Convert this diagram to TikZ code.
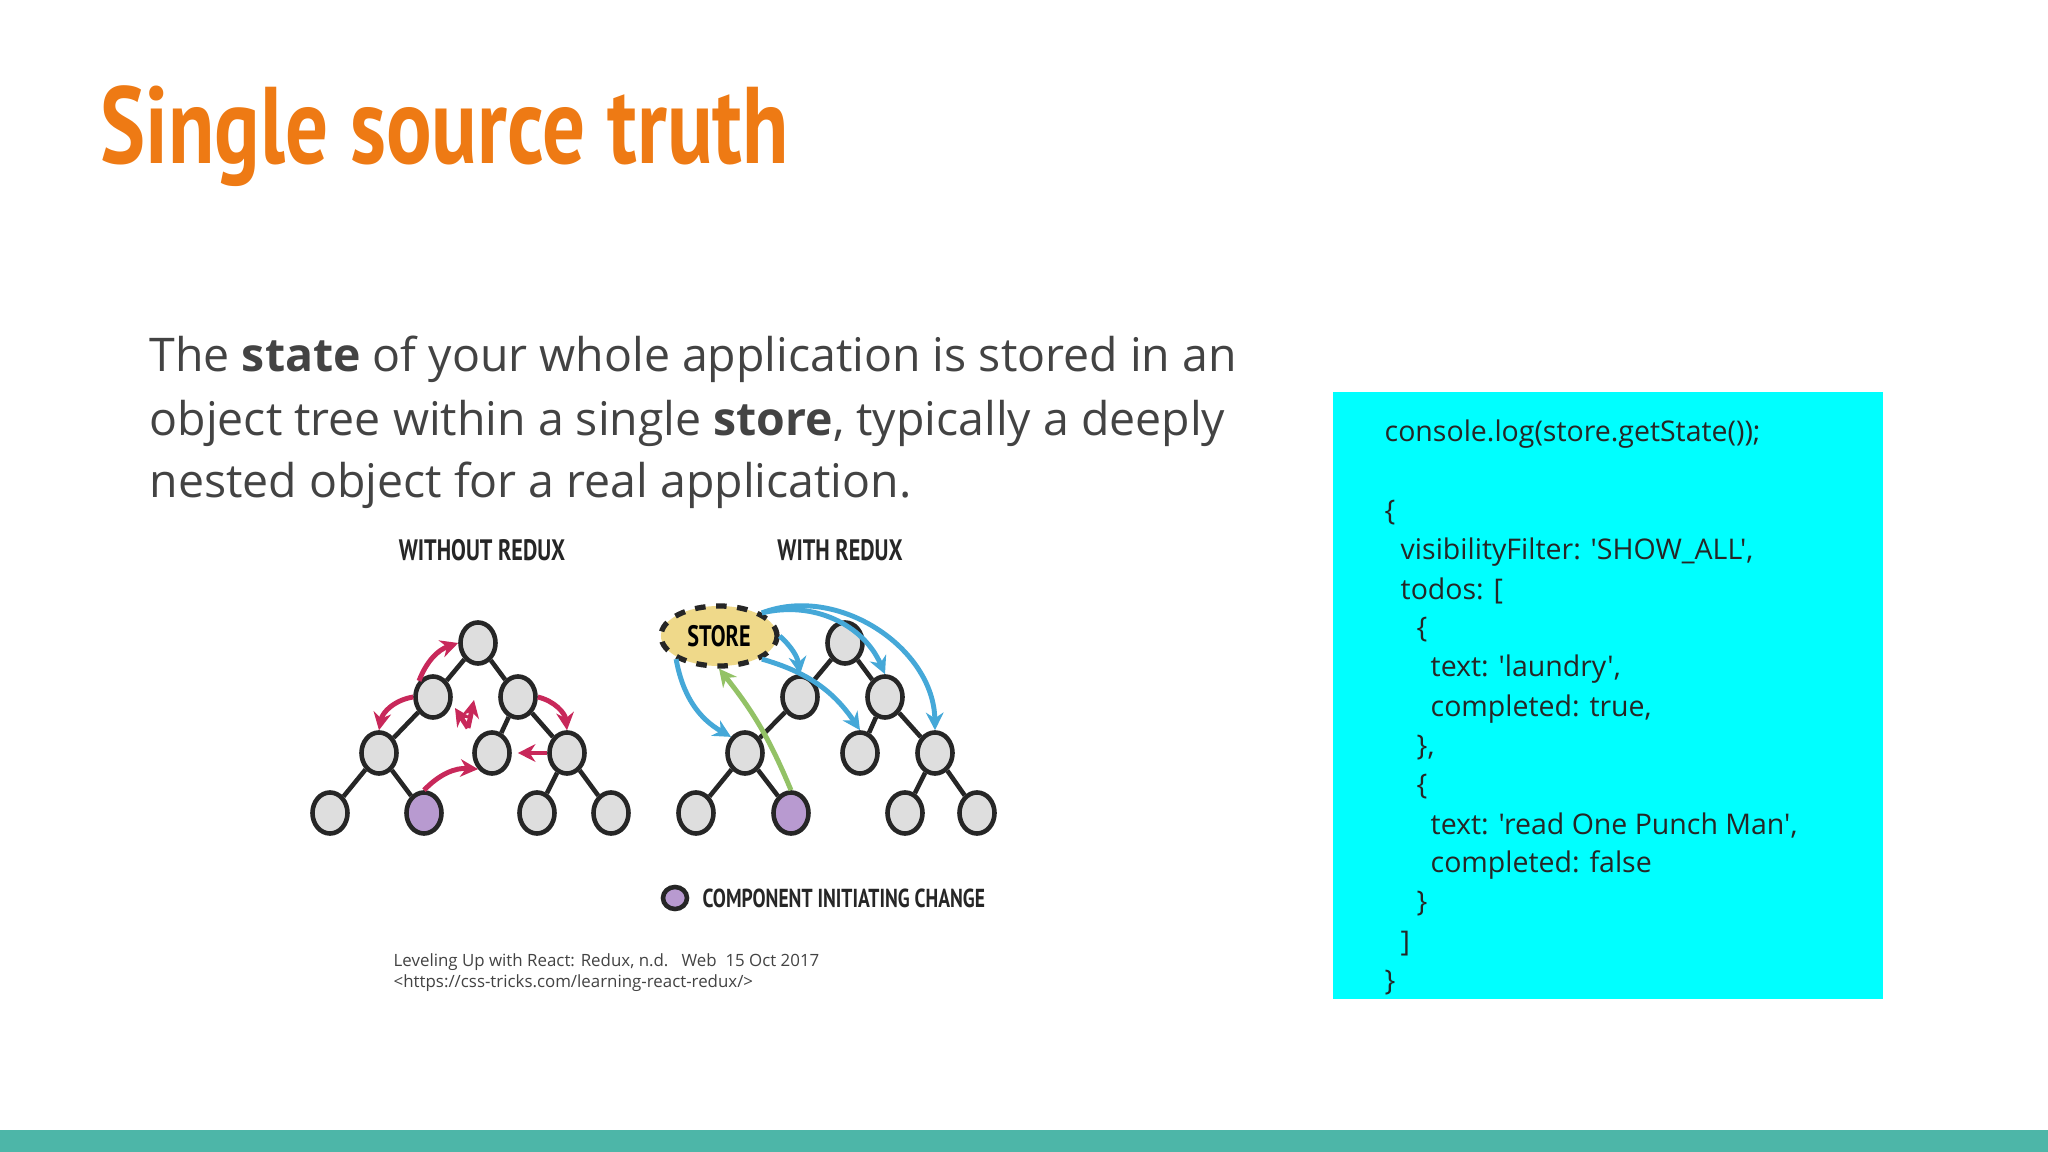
\documentclass[tikz,border=0pt]{standalone}
\usepackage{fontspec}
\setmainfont{Open Sans}
\newfontfamily\codefont[Ligatures=ResetAll]{Open Sans}
\newfontfamily\titlefont[FakeStretch=0.78]{PT Sans Bold}
\newfontfamily\labfont[FakeStretch=0.75]{PT Sans Bold}
\usetikzlibrary{shapes.geometric,arrows.meta}
\definecolor{torange}{HTML}{EE7A14}
\definecolor{tgray}{HTML}{434343}
\definecolor{cyanbox}{HTML}{00FFFF}
\definecolor{teal}{HTML}{4DB6A8}
\definecolor{nodeg}{HTML}{DEDEDE}
\definecolor{purp}{HTML}{B89AD0}
\definecolor{redar}{HTML}{C8285A}
\definecolor{bluear}{HTML}{45A8D8}
\definecolor{greenar}{HTML}{93C266}
\definecolor{storey}{HTML}{EFD98A}
\tikzset{
 comp/.style={ellipse,draw=black!85,line width=1.3pt,fill=nodeg,minimum width=0.35cm,minimum height=0.41cm,inner sep=0pt},
 pcomp/.style={comp,fill=purp},
 edge/.style={draw=black!85,line width=1.3pt},
 rarr/.style={draw=redar,line width=1.4pt,-{Stealth[length=5pt,width=5pt]}},
 barr/.style={draw=bluear,line width=1.4pt,-{Stealth[length=5pt,width=5pt]}},
 garr/.style={draw=greenar,line width=1.4pt,-{Stealth[length=5pt,width=5pt]}},
 codeline/.style={anchor=west,inner sep=0pt,font=\codefont\fontsize{8.1pt}{10pt}\selectfont,text=black!85},
 bodyline/.style={anchor=west,inner sep=0pt,font=\fontsize{13.2pt}{16pt}\selectfont,text=tgray},
 lab/.style={font=\labfont\fontsize{7.4pt}{9pt}\selectfont,text=black!85,inner sep=0pt},
 citline/.style={anchor=west,inner sep=0pt,font=\fontsize{4.8pt}{6pt}\selectfont,text=tgray}
}
\begin{document}
\begin{tikzpicture}[x=0.01cm,y=-0.01cm]
\useasboundingbox (0,0) rectangle (2048,1152);
\fill[white] (0,0) rectangle (2048,1152);
\fill[teal] (0,1130) rectangle (2048,1152);
\node[anchor=west,inner sep=0pt,text=torange,font=\titlefont\fontsize{31pt}{36pt}\selectfont] (title) at (100,136) {Single source truth};
\node[bodyline] (b1) at (149,359) {The \textbf{state} of your whole application is stored in an};
\node[bodyline] (b2) at (149,423) {object tree within a single \textbf{store}, typically a deeply};
\node[bodyline] (b3) at (149,485) {nested object for a real application.};
% code box
\fill[cyanbox] (1333,392) rectangle (1883,999);
\node[codeline] (c1) at (1384,434) {console.log(store.getState());};
\node[codeline] (c2) at (1384,513) {\{};
\node[codeline] (c3) at (1400,552) {visibilityFilter: 'SHOW\_ALL',};
\node[codeline] (c4) at (1400,591) {todos: [};
\node[codeline] (c5) at (1416,630) {\{};
\node[codeline] (c6) at (1430,669) {text: 'laundry',};
\node[codeline] (c7) at (1430,709) {completed: true,};
\node[codeline] (c8) at (1416,748) {\},};
\node[codeline] (c9) at (1416,787) {\{};
\node[codeline] (c10) at (1430,826) {text: 'read One Punch Man',};
\node[codeline] (c11) at (1430,865) {completed: false};
\node[codeline] (c12) at (1416,904) {\}};
\node[codeline] (c13) at (1400,944) {]};
\node[codeline] (c14) at (1384,983) {\}};
% citation
\node[citline] (cit1) at (393,962) {Leveling Up with React: Redux, n.d.\ \ \ Web\ \ 15 Oct 2017};
\node[citline] (cit2) at (393,983) {<https://css-tricks.com/learning-react-redux/>};
% titles
\node[lab,font=\labfont\fontsize{8.4pt}{10pt}\selectfont] (t1) at (482,550) {WITHOUT REDUX};
\node[lab,font=\labfont\fontsize{8.4pt}{10pt}\selectfont] (t2) at (840,550) {WITH REDUX};
% left tree
\node[comp] (lr) at (478,643) {};
\node[comp] (la) at (433,697) {};
\node[comp] (lb) at (518,697) {};
\node[comp] (lc) at (379,753) {};
\node[comp] (ld) at (492,753) {};
\node[comp] (le) at (567,753) {};
\node[comp] (l1) at (330,813) {};
\node[pcomp] (l2) at (424,813) {};
\node[comp] (l3) at (537,813) {};
\node[comp] (l4) at (611,813) {};
\draw[edge] (lr) -- (la); \draw[edge] (lr) -- (lb);
\draw[edge] (la) -- (lc); \draw[edge] (lb) -- (ld); \draw[edge] (lb) -- (le);
\draw[edge] (lc) -- (l1); \draw[edge] (lc) -- (l2);
\draw[edge] (le) -- (l3); \draw[edge] (le) -- (l4);
% right tree
\node[ellipse,draw=black!85,dashed,line width=1.5pt,fill=storey,minimum width=1.16cm,minimum height=0.6cm,inner sep=0pt,font=\labfont\fontsize{8.4pt}{10pt}\selectfont] (store) at (719,636) {STORE};
\node[comp] (rr) at (845,643) {};
\node[comp] (ra) at (800,697) {};
\node[comp] (rb) at (885,697) {};
\node[comp] (rc) at (745,753) {};
\node[comp] (rd) at (860,753) {};
\node[comp] (re) at (935,753) {};
\node[comp] (r1) at (696,813) {};
\node[pcomp] (r2) at (791,813) {};
\node[comp] (r3) at (905,813) {};
\node[comp] (r4) at (977,813) {};
\draw[edge] (rr) -- (ra); \draw[edge] (rr) -- (rb);
\draw[edge] (ra) -- (rc); \draw[edge] (rb) -- (rd); \draw[edge] (rb) -- (re);
\draw[edge] (rc) -- (r1); \draw[edge] (rc) -- (r2);
\draw[edge] (re) -- (r3); \draw[edge] (re) -- (r4);
% red arrows
\draw[rarr] (la.north west) to[bend left=25] (lr.west);
\draw[rarr] (la.west) to[bend right=35] (lc.north);
\draw[rarr] (lb.east) to[bend left=35] (le.north);
\draw[rarr] (l2.north) to[bend left=25] (ld.south west);
\coordinate (v) at (468,728);
\coordinate (v1) at (455,708);
\coordinate (v2) at (474,700);
\draw[rarr] (v) -- (v1);
\draw[rarr] (v) -- (v2);
\draw[rarr] (le.west) -- ([xshift=0.06cm]ld.east);
% blue arrows
\draw[barr] (store.south west) to[bend right=25] (rc.north west);
\draw[barr] (store.east) to[bend left=20] (ra.north);
\draw[barr] (store.south east) to[bend left=20] (rd.north);
\draw[barr] (store.north east) to[bend left=40] (rb.north);
\draw[barr] (store.north east) to[bend left=55] (re.north);
% green arrow
\draw[garr] (r2.north) to[bend right=8] (store.south);
% legend
\node[pcomp,minimum width=0.24cm,minimum height=0.22cm] (leg) at (675,898) {};
\node[lab,anchor=west] (legt) at (702,898) {COMPONENT INITIATING CHANGE};
\end{tikzpicture}
\end{document}
